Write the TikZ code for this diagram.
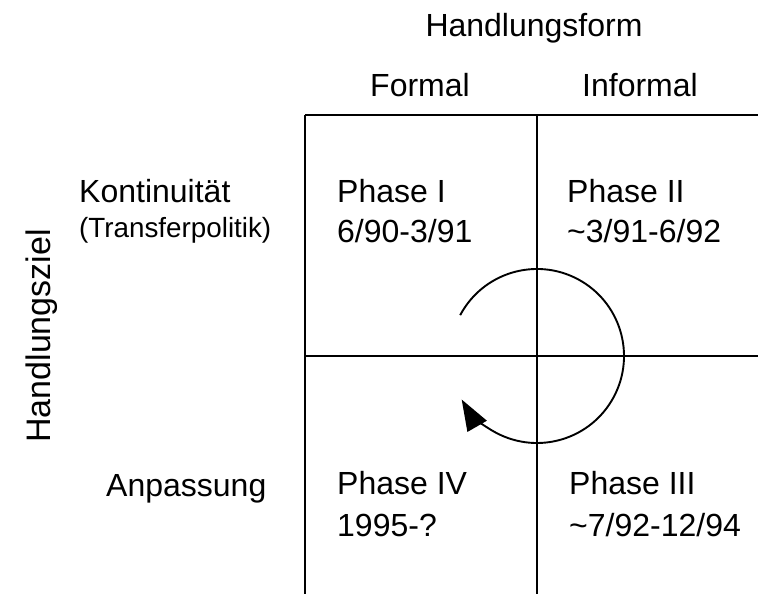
\documentclass[tikz,border=0pt]{standalone}
\usepackage{fontspec}
\setmainfont{Liberation Sans}
\usetikzlibrary{arrows.meta}
\begin{document}
\begin{tikzpicture}[x=1pt,y=1pt,
  lbl/.style={inner sep=0pt,anchor=base west,font=\fontsize{32}{38}\selectfont},
  lblc/.style={inner sep=0pt,anchor=base,font=\fontsize{32}{38}\selectfont},
  small/.style={inner sep=0pt,anchor=base west,font=\fontsize{27.8}{33}\selectfont},
  grid/.style={line width=1.8pt},
  cyc/.style={line width=1.9pt,-{Triangle[length=31pt,width=22pt]}}]
\useasboundingbox (0,0) rectangle (758,594);
% grid
\coordinate (tl) at (305,479);
\coordinate (tr) at (758,479);
\coordinate (ml) at (305,238);
\coordinate (mr) at (758,238);
\coordinate (bl) at (305,0);
\coordinate (tm) at (537,479);
\coordinate (bm) at (537,0);
\draw[grid] (tl) -- (tr);
\draw[grid] (ml) -- (mr);
\draw[grid] (tl) -- (bl);
\draw[grid] (tm) -- (bm);
% cycle arrow
\coordinate (c) at (537,238);
\draw[cyc] ([shift={(152:87)}]c) arc[start angle=152,end angle=-150,radius=87];
% headers
\node[lblc] (hf) at (534,557) {Handlungsform};
\node[lblc] (formal) at (420,497) {Formal};
\node[lblc] (informal) at (640,497) {Informal};
\node[lbl,rotate=90,anchor=base,font=\fontsize{34}{40}\selectfont] (hz) at (50,258) {Handlungsziel};
% row labels
\node[lbl] (kont) at (79,391) {Kontinuität};
\node[small] (trans) at (79,356) {(Transferpolitik)};
\node[lbl] (anp) at (106,97) {Anpassung};
% cells
\node[lbl] (p1) at (337,391) {Phase I};
\node[lbl] (d1) at (337,351) {6/90-3/91};
\node[lbl] (p2) at (567,391) {Phase II};
\node[lbl] (d2) at (567,351) {\textasciitilde3/91-6/92};
\node[lbl] (p4) at (337,99) {Phase IV};
\node[lbl] (d4) at (337,57) {1995-?};
\node[lbl] (p3) at (569,99) {Phase III};
\node[lbl] (d3) at (569,57) {\textasciitilde7/92-12/94};
\end{tikzpicture}
\end{document}
